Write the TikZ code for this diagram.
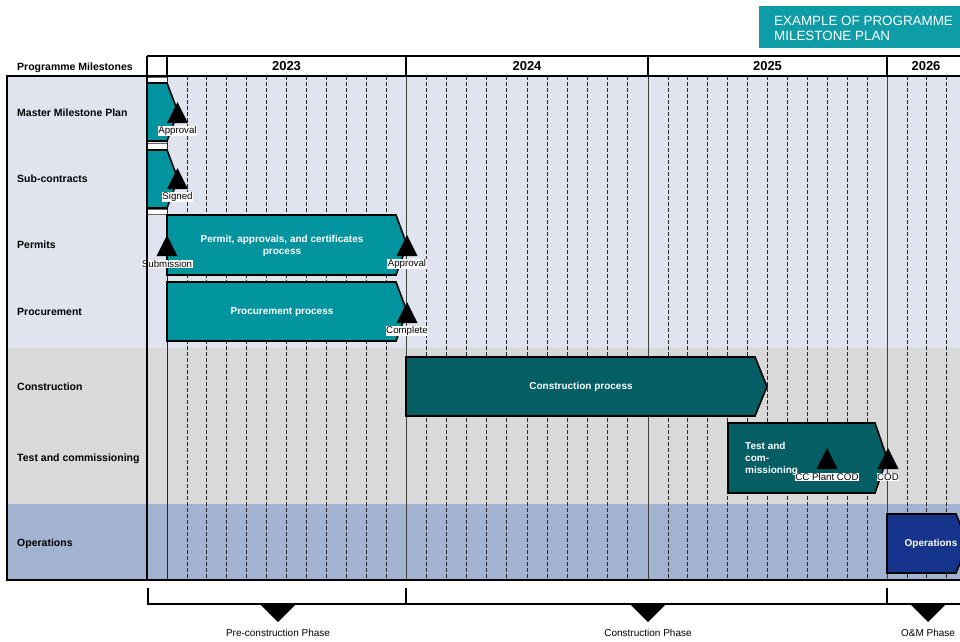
\documentclass[tikz,border=0pt]{standalone}
\usepackage{fontspec}
\setmainfont{Liberation Sans}
\definecolor{bgtop}{RGB}{223,228,238}
\definecolor{bgmid}{RGB}{217,217,217}
\definecolor{bgbot}{RGB}{161,179,209}
\definecolor{tealA}{RGB}{0,148,158}
\definecolor{tealB}{RGB}{4,94,100}
\definecolor{navyC}{RGB}{22,52,140}
\definecolor{titlebg}{RGB}{14,157,166}
\newcommand\chevshape[7]{%
  \draw[chev, fill=#1] (#2,#5) -- (#3,#5) -- (#4,{(#5+#6)/2}) -- (#3,#6) -- (#2,#6) -- cycle;}
\newcommand\mstone[4]{%
  \fill[black] (#1-10.5,#2+21) -- (#1,#2) -- (#1+10.5,#2+21) -- cycle;
  \node[mslab] (#3) at (#1,#2+29) {#4};}
\begin{document}
\begin{tikzpicture}[x=1pt,y=-1pt,
  rowlab/.style={anchor=west, font=\fontsize{10.5}{12}\selectfont\bfseries, inner sep=0},
  yearlab/.style={font=\fontsize{13}{15}\selectfont\bfseries, inner sep=0},
  chev/.style={draw=black, line width=1.6pt, line join=miter},
  chevtext/.style={text=white, font=\fontsize{10}{12.5}\selectfont\bfseries, align=center, inner sep=0},
  mslab/.style={fill=white, inner sep=0.6pt, font=\fontsize{9.7}{10}\selectfont},
  monthline/.style={dash pattern=on 3.5pt off 2.5pt, line width=0.8pt, draw=black!85},
  yearline/.style={line width=0.9pt, draw=black!75},
  phaselab/.style={font=\fontsize{10}{12}\selectfont, inner sep=0},
  phasetri/.style={fill=black}]
\useasboundingbox (0,0) rectangle (960,641);
\begin{scope}
\clip (0,0) rectangle (960,641);
% title
\fill[titlebg] (759,6) rectangle (975,48);
\node[anchor=north west, align=left, text=white, inner sep=0,
      font=\fontsize{13.4}{15}\selectfont] (title) at (774,16) {EXAMPLE OF PROGRAMME\\MILESTONE PLAN};
% backgrounds
\fill[bgtop] (7,76) rectangle (975,348);
\fill[bgmid] (7,348) rectangle (975,504);
\fill[bgbot] (7,504) rectangle (975,580);
% white spacer bars in first column
\foreach \ya/\yb in {77/82, 143/149, 209/214} {
  \filldraw[fill=white, draw=black!60, line width=0.5pt] (147,\ya) rectangle (167,\yb);
}
% month dashed lines
\foreach \a/\b in {167/406, 406/648, 648/887, 887/1126} {
  \foreach \k in {1,...,11} {
    \draw[monthline] ({\a+\k*(\b-\a)/12},76) -- ({\a+\k*(\b-\a)/12},580);
  }
}
% year solid lines
\draw[line width=0.8pt, draw=black!85] (167,56) -- (167,580);
\foreach \x in {406,648,887} { \draw[yearline] (\x,76) -- (\x,580); }
% header
\node[rowlab] (hdr) at (17,68) {Programme Milestones};
\draw[line width=1.8pt] (147,56) -- (975,56);
\draw[line width=1.8pt] (147,76) -- (975,76);
\fill[white] (148,57) rectangle (975,75);
\foreach \x in {167,406,648,887} { \draw[line width=1.8pt] (\x,56) -- (\x,76); }
\draw[line width=1.8pt] (147,56) -- (147,76);
\node[yearlab] (y2023) at (286.5,66) {2023};
\node[yearlab] (y2024) at (527,66) {2024};
\node[yearlab] (y2025) at (767.5,66) {2025};
\node[yearlab] (y2026) at (926,66) {2026};
% row labels
\node[rowlab] (r1) at (17,113) {Master Milestone Plan};
\node[rowlab] (r2) at (17,179) {Sub-contracts};
\node[rowlab] (r3) at (17,245) {Permits};
\node[rowlab] (r4) at (17,312) {Procurement};
\node[rowlab] (r5) at (17,387) {Construction};
\node[rowlab] (r6) at (17,459) {Test and commissioning};
\node[rowlab] (r7) at (17,544) {Operations};
% chevrons
\chevshape{tealA}{147}{167}{178}{83}{141}{c1}
\chevshape{tealA}{147}{167}{178}{150}{208}{c2}
\chevshape{tealA}{167}{396}{407}{215}{275}{c3}
\chevshape{tealA}{167}{396}{407}{282}{341}{c4}
\chevshape{tealB}{406}{755}{767}{357}{416}{c5}
\chevshape{tealB}{728}{875}{887}{423}{493}{c6}
\chevshape{navyC}{887}{956}{968}{514}{573}{c7}
\node[chevtext] (t3) at (282,246) {Permit, approvals, and certificates\\process};
\node[chevtext] (t4) at (282,312) {Procurement process};
\node[chevtext] (t5) at (581,387) {Construction process};
\node[chevtext, anchor=north west, align=left, font=\fontsize{10}{12}\selectfont\bfseries] (t6) at (745,442) {Test and\\com-\\missioning};
\node[chevtext] (t7) at (931,544) {Operations};
% milestones
\mstone{177.5}{102}{m1}{Approval}
\mstone{177.5}{168}{m2}{Signed}
\mstone{167}{235}{m3}{Submission}
\mstone{407}{235}{m4}{Approval}
\mstone{407}{302}{m5}{Complete}
\mstone{827}{448}{m6}{CC Plant COD}
\mstone{888}{448}{m7}{COD}
% borders
\draw[line width=1.8pt] (975,76) -- (7,76) -- (7,580) -- (975,580);
\draw[line width=1.8pt] (147,76) -- (147,580);
% phase bracket
\draw[line width=1.5pt] (148,588) -- (148,604) -- (975,604);
\draw[line width=1.5pt] (406,588) -- (406,604);
\draw[line width=1.5pt] (887,588) -- (887,604);
\foreach \x in {278,648,928} {
  \fill[phasetri] (\x-17,605) -- (\x+17,605) -- (\x,622) -- cycle;
}
\node[phaselab] (p1) at (278,633) {Pre-construction Phase};
\node[phaselab] (p2) at (648,633) {Construction Phase};
\node[phaselab] (p3) at (928,633) {O\&M Phase};
\end{scope}
\end{tikzpicture}
\end{document}
